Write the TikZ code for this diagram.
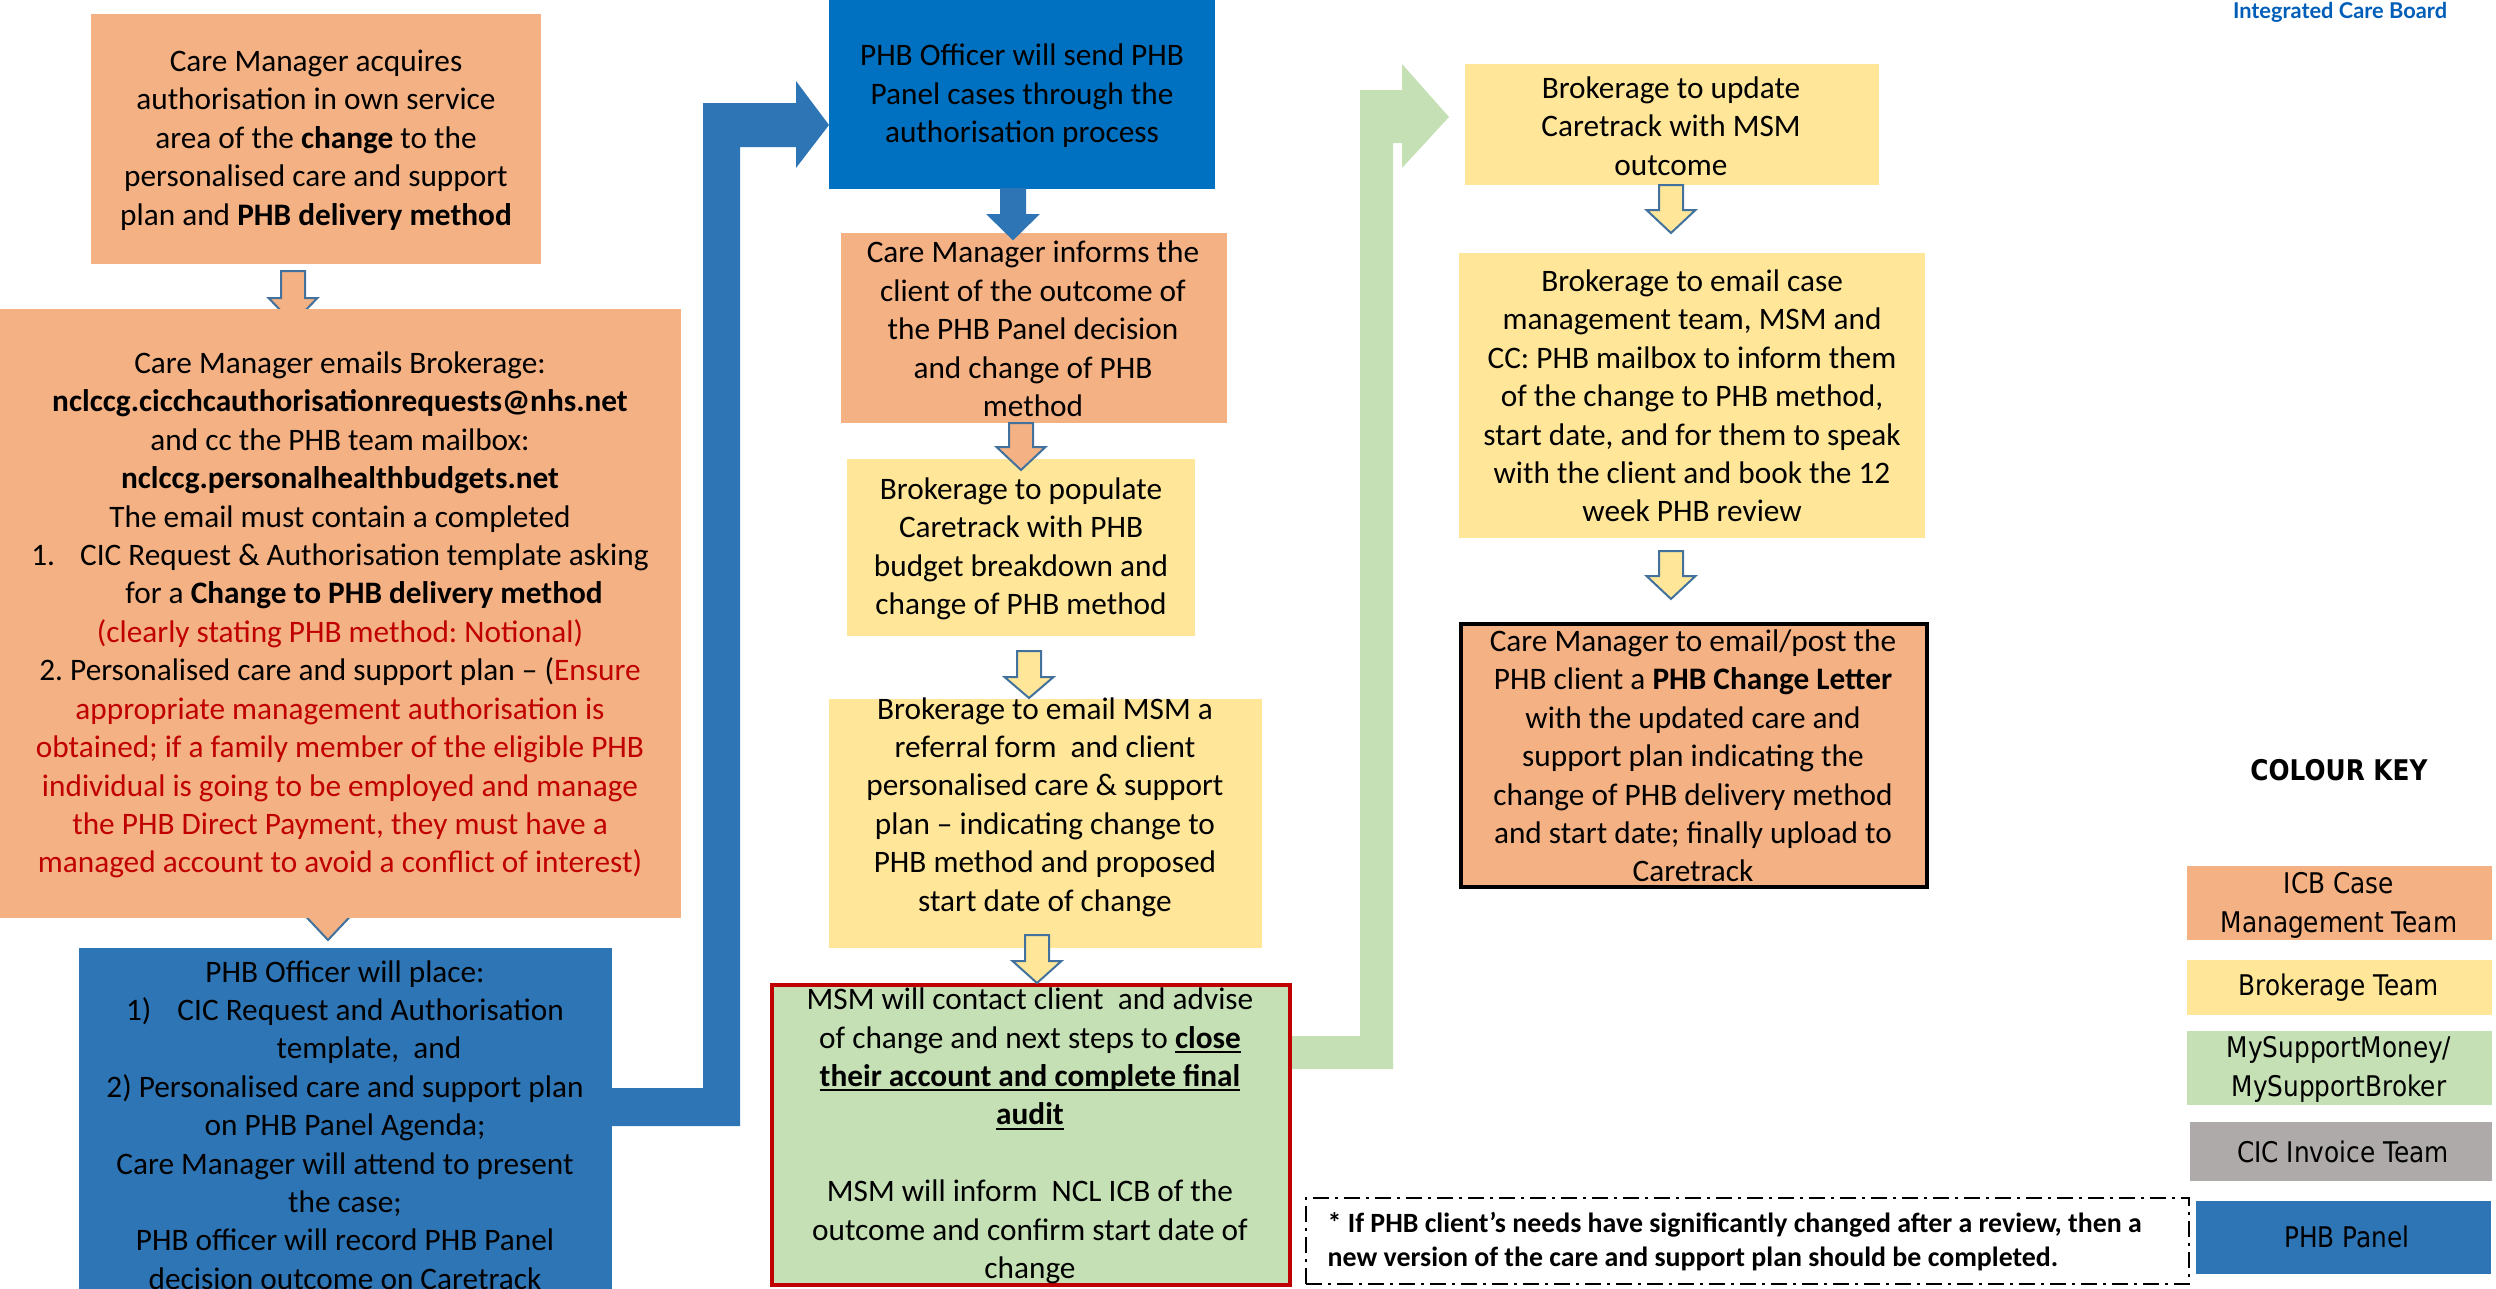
\documentclass[tikz,border=0pt]{standalone}
\usepackage{fontspec}
\setmainfont{Carlito}
\newfontfamily\keyfont[FakeStretch=0.87]{DejaVu Sans}
\newfontfamily\logofont{Lato}
\frenchspacing

\definecolor{icbOrange}{HTML}{F4B183}
\definecolor{brokYellow}{HTML}{FFE699}
\definecolor{msmGreen}{HTML}{C5E0B4}
\definecolor{cicGrey}{HTML}{AEAAAA}
\definecolor{panelBlue}{HTML}{2E75B6}
\definecolor{officerBlue}{HTML}{0070C0}
\definecolor{noteRed}{HTML}{C00000}
\definecolor{arrowEdge}{HTML}{41719C}
\definecolor{nhsBlue}{HTML}{005EB8}

\newcommand{\mainsize}{\fontsize{8.9pt}{10.93pt}\selectfont}
\newcommand{\keysize}{\fontsize{8.1pt}{11.1pt}\selectfont}

% underline at a fixed depth below the baseline
\newsavebox{\ulfixbox}
\newcommand{\ulfix}[1]{\sbox{\ulfixbox}{#1}\rlap{\rule[-1.3pt]{\wd\ulfixbox}{0.5pt}}\usebox{\ulfixbox}}

% box node spanning (x1,y1)-(x2,y2), all in 0.1mm units
\newcommand{\stepbox}[6]{%
  \node[#2, minimum width={(#5-#3)*0.1mm}, minimum height={(#6-#4)*0.1mm}]
    (#1) at ({(#3+#5)/2},{(#4+#6)/2}) {};}

% downward block arrow: style, centre x, shaft top, head base, tip
\newcommand{\downblock}[5]{%
  \draw[#1] ({#2-12},#3) -- ({#2+12},#3) -- ({#2+12},#4) -- ({#2+24.5},#4)
    -- (#2,#5) -- ({#2-24.5},#4) -- ({#2-12},#4) -- cycle;}

\tikzset{
  panel/.style={rectangle, inner sep=0pt, outer sep=0pt},
  icb/.style={panel, fill=icbOrange},
  brok/.style={panel, fill=brokYellow},
  msm/.style={panel, fill=msmGreen},
  phb/.style={panel, fill=panelBlue},
  txt/.style={font=\mainsize, align=center, inner sep=0pt, text=black},
  keytxt/.style={font=\keyfont\keysize, align=center, inner sep=0pt, text=black},
  hollow/.style={line width=0.2mm, draw=arrowEdge, fill=#1, line join=miter},
  solidblue/.style={line width=0.2mm, draw=panelBlue, fill=panelBlue},
}

\begin{document}
\begin{tikzpicture}[x=0.1mm, y=-0.1mm]
\useasboundingbox (0,0) rectangle (2496,1289);

% bent connectors behind the boxes
\fill[panelBlue] (612,1126) -- (740,1126) -- (740,147) -- (796,147) -- (796,168)
  -- (829,125) -- (796,81) -- (796,103) -- (703,103) -- (703,1088) -- (612,1088) -- cycle;
\fill[msmGreen] (1291,1069) -- (1393,1069) -- (1393,143) -- (1402,143) -- (1402,168)
  -- (1449,117) -- (1402,64) -- (1402,90) -- (1360,90) -- (1360,1036) -- (1291,1036) -- cycle;

% arrows partly hidden by the boxes
\downblock{hollow=icbOrange}{293}{271}{298}{323}
\downblock{hollow=icbOrange}{328}{888}{914}{940}

% process boxes
\stepbox{b1}{icb}{91}{14}{541}{264}
\stepbox{b2}{icb}{0}{309}{681}{918}
\stepbox{b3}{phb}{79}{948}{612}{1300}
\stepbox{b4}{panel, fill=officerBlue}{829}{0}{1215}{189}
\stepbox{b5}{icb}{841}{233}{1227}{423}
\stepbox{b6}{brok}{847}{459}{1195}{636}
\stepbox{b7}{brok}{829}{699}{1262}{948}
\stepbox{b8}{msm, draw=noteRed, line width=0.45mm}{772}{985}{1290}{1285}
\stepbox{b9}{brok}{1465}{64}{1879}{185}
\stepbox{b10}{brok}{1459}{253}{1925}{538}
\stepbox{b11}{icb, draw=black, line width=0.35mm}{1461}{624}{1927}{887}

% arrows drawn over the boxes
\downblock{solidblue}{1013}{189}{215}{239}
\downblock{hollow=icbOrange}{1021}{423}{447}{470}
\downblock{hollow=brokYellow}{1029}{651}{677}{698}
\downblock{hollow=brokYellow}{1037}{935}{961}{983}
\downblock{hollow=brokYellow}{1671}{185}{210}{233}
\downblock{hollow=brokYellow}{1671}{551}{576}{599}

% box texts
\node[txt] (t1) at (316,140) {Care Manager acquires\\authorisation in own service\\area of the \textbf{change} to the\\personalised care and support\\plan and \textbf{PHB delivery method}};

\node[txt] (t2) at (340,615) {Care Manager emails Brokerage:\\
\textbf{nclccg.cicchcauthorisationrequests@nhs.net}\\
and cc the PHB team mailbox:\\
\textbf{nclccg.personalhealthbudgets.net}\\
The email must contain a completed\\
1.\hspace{2.5mm}CIC Request \& Authorisation template asking\\
\hspace{4.8mm}for a \textbf{Change to PHB delivery method}\\
{\color{noteRed}(clearly stating PHB method: Notional)}\\
2. Personalised care and support plan -- ({\color{noteRed}Ensure}\\
{\color{noteRed}appropriate management authorisation is}\\
{\color{noteRed}obtained; if a family member of the eligible PHB}\\
{\color{noteRed}individual is going to be employed and manage}\\
{\color{noteRed}the PHB Direct Payment, they must have a}\\
{\color{noteRed}managed account to avoid a conflict of interest)}};

\node[txt] (t3) at (345,1125) {PHB Officer will place:\\
1)\hspace{2.6mm}CIC Request and Authorisation\\
\hspace{4.8mm}template,~ and\\
2) Personalised care and support plan\\
on PHB Panel Agenda;\\
Care Manager will attend to present\\
the case;\\
PHB officer will record PHB Panel\\
decision outcome on Caretrack};

\node[txt] (t4) at (1022,96) {PHB Officer will send PHB\\Panel cases through the\\authorisation process};

\node[txt] (t5) at (1033,329) {Care Manager informs the\\client of the outcome of\\the PHB Panel decision\\and change of PHB\\method};

\node[txt] (t6) at (1021,549) {Brokerage to populate\\Caretrack with PHB\\budget breakdown and\\change of PHB method};

\node[txt] (t7) at (1045,807) {Brokerage to email MSM a\\referral form~ and client\\personalised care \& support\\plan -- indicating change to\\PHB method and proposed\\start date of change};

\node[txt] (t8) at (1030,1136) {MSM will contact client~ and advise\\
of change and next steps to \ulfix{\textbf{close}}\\
\ulfix{\textbf{their account and complete final}}\\
\ulfix{\textbf{audit}}\\[10.93pt]
MSM will inform~ NCL ICB of the\\
outcome and confirm start date of\\
change};

\node[txt] (t9) at (1671,126) {Brokerage to update\\Caretrack with MSM\\outcome};

\node[txt] (t10) at (1692,396) {Brokerage to email case\\management team, MSM and\\CC: PHB mailbox to inform them\\of the change to PHB method,\\start date, and for them to speak\\with the client and book the 12\\week PHB review};

\node[txt] (t11) at (1693,756) {Care Manager to email/post the\\PHB client a \textbf{PHB Change Letter}\\with the updated care and\\support plan indicating the\\change of PHB delivery method\\and start date; finally upload to\\Caretrack};

% footnote
\node[panel, fill=white, draw=black, line width=0.25mm,
      dash pattern=on 1.6mm off 0.6mm on 0.3mm off 0.6mm,
      minimum width=88.3mm, minimum height=8.6mm] (note) at (1747.5,1241) {};
\node[txt, align=left, anchor=west, font=\fontsize{7.93pt}{9.67pt}\selectfont\bfseries]
  (notetext) at (1327,1242) {* If PHB client’s needs have significantly changed after a review, then a\\new version of the care and support plan should be completed.};

% header
\node[inner sep=0pt, text=nhsBlue, font=\logofont\bfseries\fontsize{6.2pt}{7pt}\selectfont]
  (logo) at (2340,12) {Integrated Care Board};

% colour key
\node[keytxt, font=\keyfont\keysize\bfseries] (keytitle) at (2339,770) {COLOUR KEY};
\stepbox{k1}{icb}{2187}{866}{2492}{940}
\stepbox{k2}{brok}{2187}{960}{2492}{1015}
\stepbox{k3}{msm}{2187}{1031}{2492}{1105}
\stepbox{k4}{panel, fill=cicGrey}{2190}{1122}{2492}{1181}
\stepbox{k5}{phb}{2196}{1201}{2491}{1274}
\node[keytxt] (k1t) at (2339,905) {ICB Case\\Management Team};
\node[keytxt] (k2t) at (2339,988) {Brokerage Team};
\node[keytxt] (k3t) at (2339,1069) {MySupportMoney/\\MySupportBroker};
\node[keytxt] (k4t) at (2343,1152) {CIC Invoice Team};
\node[keytxt] (k5t) at (2347,1237) {PHB Panel};
\end{tikzpicture}
\end{document}
